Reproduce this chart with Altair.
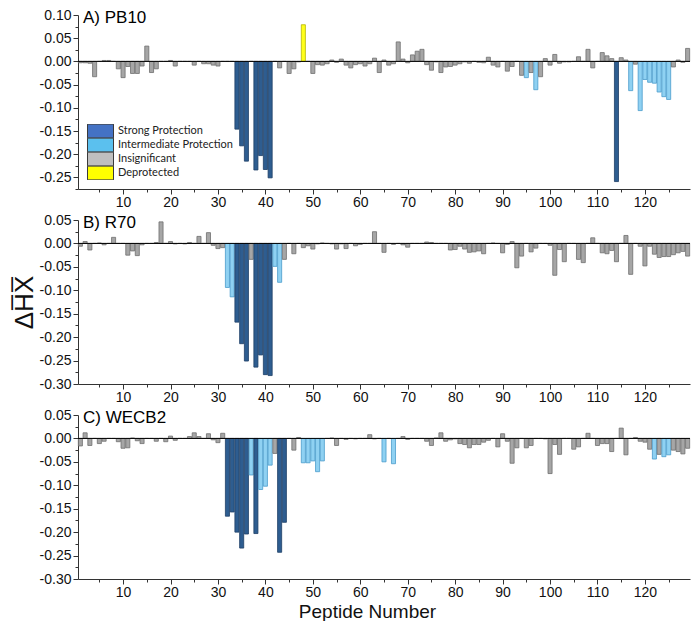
import altair as alt
import pandas as pd

peptides = list(range(1, 130))

categories = ["Strong Protection", "Intermediate Protection", "Insignificant", "Deprotected"]
bar_fill = ["#2E5D90", "#8FD1F2", "#A6A6A6", "#FFFF1A"]
bar_stroke = ["#1E3F66", "#4A9CCB", "#6F6F6F", "#B5B500"]
legend_fill = ["#4472C4", "#5BC0EE", "#BFBFBF", "#FFFF00"]

panel_labels = ["A) PB10", "B) R70", "C) WECB2"]

pb10_values = [
    -0.003, -0.003, -0.004, -0.033, 0.0, 0.002, 0.002, 0.0, -0.016, -0.035,
    -0.011, -0.026, -0.026, -0.010, 0.033, -0.024, -0.016, 0.0, 0.0, 0.002,
    -0.010, 0.0, 0.0, 0.0, -0.008, 0.0, -0.005, -0.005, -0.008, -0.010,
    0.0, 0.0, 0.0, -0.146, -0.182, -0.215, 0.0, -0.234, -0.203, -0.233,
    -0.251, 0.0, -0.014, 0.0, -0.026, -0.016, -0.001, 0.079, 0.0, -0.026,
    -0.007, -0.008, -0.005, 0.003, -0.002, 0.005, -0.008, -0.014, -0.007, -0.005,
    -0.010, -0.005, 0.007, -0.024, 0.003, -0.008, -0.005, 0.042, 0.005, -0.003,
    0.014, 0.022, 0.026, -0.007, -0.019, -0.001, -0.024, -0.012, -0.011, -0.008,
    -0.005, -0.001, -0.004, 0.0, -0.002, -0.003, 0.009, -0.008, -0.012, 0.0,
    -0.021, -0.011, 0.0, -0.030, -0.035, -0.024, -0.061, -0.033, 0.006, -0.008,
    0.015, -0.004, -0.001, -0.001, 0.0, 0.010, 0.0, 0.026, -0.014, 0.0,
    0.019, 0.012, 0.006, -0.259, 0.008, 0.003, -0.063, -0.006, -0.106, -0.039,
    -0.045, -0.047, -0.066, -0.076, -0.082, -0.012, 0.003, -0.002, 0.028,
]
pb10_strong = [34, 35, 36, 38, 39, 40, 41, 114]
pb10_inter = [95, 97, 117, 119, 120, 121, 122, 123, 124, 125]
pb10_deprot = [48]

r70_values = [
    -0.006, 0.004, -0.014, 0.0, 0.001, -0.003, 0.0, 0.013, 0.0, 0.0,
    -0.025, -0.016, -0.026, -0.003, 0.0, 0.0, 0.002, 0.046, 0.0, 0.004,
    -0.001, 0.0, -0.001, 0.002, 0.0, 0.015, 0.0, 0.023, -0.004, -0.011,
    -0.009, -0.094, -0.114, -0.168, -0.214, -0.251, -0.034, -0.264, -0.238, -0.280,
    -0.282, -0.049, -0.083, -0.034, 0.0, -0.022, 0.0, -0.009, -0.005, -0.012,
    -0.001, 0.001, 0.0, -0.001, -0.012, -0.001, -0.011, 0.0, -0.005, -0.002,
    0.0, 0.0, 0.025, 0.0, -0.019, 0.0, -0.002, 0.0, -0.003, -0.008,
    0.0, 0.0, 0.0, 0.003, 0.002, 0.0, 0.0, 0.0, -0.014, -0.013,
    -0.006, -0.012, -0.019, -0.018, -0.016, -0.022, 0.0, 0.001, 0.0, -0.020,
    -0.002, 0.004, -0.052, -0.027, 0.0, -0.018, -0.010, 0.0, 0.0, -0.004,
    -0.068, -0.013, -0.039, 0.0, 0.0, -0.034, -0.041, 0.0, 0.012, 0.0,
    -0.020, -0.022, -0.015, -0.039, 0.0, 0.017, -0.066, 0.0, -0.006, -0.048,
    -0.006, -0.023, -0.030, -0.028, -0.028, -0.024, -0.020, -0.017, -0.027,
]
r70_strong = [34, 35, 36, 38, 39, 40, 41]
r70_inter = [32, 33, 42, 43]
r70_deprot = []

wecb2_values = [
    -0.016, 0.012, -0.015, 0.0, -0.011, -0.006, 0.0, 0.0, -0.007, -0.021,
    -0.020, 0.001, -0.005, -0.011, 0.0, 0.0, -0.006, 0.0, -0.007, 0.005,
    -0.004, 0.0, 0.0, 0.004, 0.012, 0.004, 0.0, 0.010, -0.003, -0.009,
    0.011, -0.166, -0.157, -0.200, -0.234, -0.204, -0.078, -0.203, -0.109, -0.102,
    -0.057, -0.032, -0.243, -0.179, 0.0, -0.025, 0.002, -0.052, -0.052, -0.048,
    -0.071, -0.048, 0.0, 0.001, -0.015, 0.0, -0.002, 0.0, -0.001, 0.0,
    0.0, 0.008, -0.001, 0.0, -0.050, 0.0, -0.054, 0.0, 0.004, -0.002,
    0.0, 0.0, 0.0, -0.006, -0.015, 0.001, 0.012, -0.006, -0.003, -0.001,
    -0.011, -0.013, -0.020, -0.013, -0.013, -0.008, -0.004, 0.0, -0.018, 0.010,
    -0.006, -0.053, -0.020, 0.0, -0.020, -0.015, 0.0, 0.0, -0.001, -0.075,
    -0.013, -0.034, 0.0, 0.0, -0.023, -0.018, 0.0, 0.011, 0.0, -0.015,
    -0.011, -0.011, -0.028, 0.0, 0.022, -0.035, 0.0, 0.002, -0.006, -0.008,
    -0.023, -0.044, -0.034, -0.039, -0.035, -0.025, -0.028, -0.033, -0.021,
]
wecb2_strong = [32, 33, 34, 35, 36, 38, 43, 44]
wecb2_inter = [37, 39, 40, 41, 48, 49, 50, 51, 52, 65, 67, 122, 124, 125]
wecb2_deprot = []

x_ticks = list(range(5, 130, 5))
W = 612
FONT = "Liberation Sans"

# bar scales list the categories in reverse order so that they are not merged with the legend scale
bar_domain = categories[::-1]
bar_fill_range = bar_fill[::-1]
bar_stroke_range = bar_stroke[::-1]


def make_df(values, strong, inter, deprot):
    cats = []
    for p in peptides:
        if p in strong:
            cats.append(categories[0])
        elif p in inter:
            cats.append(categories[1])
        elif p in deprot:
            cats.append(categories[3])
        else:
            cats.append(categories[2])
    return pd.DataFrame({"peptide": peptides, "dhx": values, "cat": cats})


def y_ticks(lo, hi):
    n = int(round((hi - lo) / 0.025))
    return [round(lo + 0.025 * i, 3) for i in range(n + 1)]


def panel(df, label, ydomain, height, xtitle, ytitle, legend):
    yvals = y_ticks(ydomain[0], ydomain[1])
    xaxis = alt.Axis(
        values=x_ticks, tickCount=len(x_ticks),
        labelExpr="datum.value % 10 == 0 ? datum.label : ''",
        labelOverlap=False,
        grid=False,
        tickSize={"condition": {"test": "datum.value % 10 == 0", "value": 5}, "value": 3},
        labelPadding=1, labelFontSize=14,
        title=xtitle if xtitle else None,
        titleFontSize=19, titleFontWeight="normal", titlePadding=3,
        titleX=289, titleAlign="center",
    )
    yaxis = alt.Axis(
        values=yvals, tickCount=len(yvals),
        labelExpr="(abs(round(datum.value*1000)) % 50 == 0) ? ((datum.value < -0.0001 ? '-' : '') + format(abs(datum.value), '.2f')) : ''",
        labelOverlap=False,
        grid=False,
        tickSize={"condition": {"test": "abs(round(datum.value*1000)) % 50 == 0", "value": 5}, "value": 3},
        labelPadding=2, labelFontSize=14,
        title=ytitle if ytitle else None,
        titleFontSize=26, titleFontWeight="normal", titlePadding=2,
    )
    bars = alt.Chart(df).transform_calculate(
        x0="datum.peptide - 0.43", x1="datum.peptide + 0.43"
    ).mark_bar(strokeWidth=0.8).encode(
        x=alt.X("x0:Q", scale=alt.Scale(domain=[0.5, 129.5], nice=False, zero=False), axis=xaxis),
        x2="x1:Q",
        y=alt.Y("dhx:Q", scale=alt.Scale(domain=ydomain, nice=False, zero=False), axis=yaxis),
        y2=alt.datum(0),
        color=alt.Color("cat:N", scale=alt.Scale(domain=bar_domain, range=bar_fill_range), legend=None),
        stroke=alt.Stroke("cat:N", scale=alt.Scale(domain=bar_domain, range=bar_stroke_range), legend=None),
        tooltip=["peptide:Q", "dhx:Q", "cat:N"],
    )
    zero = alt.Chart(pd.DataFrame({"z": [0]})).mark_rule(color="black", strokeWidth=1).encode(
        y=alt.datum(0)
    )
    title = alt.Chart(pd.DataFrame({"label": [label]})).mark_text(
        align="left", baseline="middle", fontSize=17, font=FONT, color="black"
    ).encode(x=alt.value(5), y=alt.value(3), text="label:N")
    layers = [bars, zero, title]
    if legend:
        leg = alt.Chart(pd.DataFrame({"cat": categories})).mark_square(size=0, clip=True).encode(
            x=alt.datum(-50),
            y=alt.datum(0),
            fill=alt.Fill(
                "cat:N",
                scale=alt.Scale(domain=categories, range=legend_fill),
                legend=alt.Legend(
                    orient="bottom-left", offset=9, title=None,
                    symbolType="M-1,-0.53H1V0.53H-1Z", symbolSize=676,
                    symbolStrokeColor="#3a3a3a", symbolStrokeWidth=1, symbolOpacity=1,
                    clipHeight=14, rowPadding=0, labelFont="Lato", labelFontSize=11,
                    labelOffset=4, labelColor="#222222", padding=0,
                ),
            ),
        )
        layers.append(leg)
    return alt.layer(*layers).properties(width=W, height=height)


pa = panel(make_df(pb10_values, pb10_strong, pb10_inter, pb10_deprot), panel_labels[0],
           [-0.275, 0.10], 174, None, None, True)
pb = panel(make_df(r70_values, r70_strong, r70_inter, r70_deprot), panel_labels[1],
           [-0.30, 0.05], 164, None, "\u0394H\u0305X\u0305", False)
pc = panel(make_df(wecb2_values, wecb2_strong, wecb2_inter, wecb2_deprot), panel_labels[2],
           [-0.30, 0.05], 164, "Peptide Number", None, False)

chart = alt.vconcat(pa, pb, pc, spacing=31, bounds="flush").resolve_scale(
    fill="independent", color="independent", stroke="independent"
).properties(
    padding={"left": 3, "top": 0, "right": 0, "bottom": 0}
).configure_view(stroke=None).configure_axis(
    domainColor="#333333", tickColor="#333333", labelColor="#111111",
    labelFont=FONT, titleFont=FONT, titleColor="#111111",
)

chart.save("out.html", embed_options={"renderer": "svg", "actions": False})
